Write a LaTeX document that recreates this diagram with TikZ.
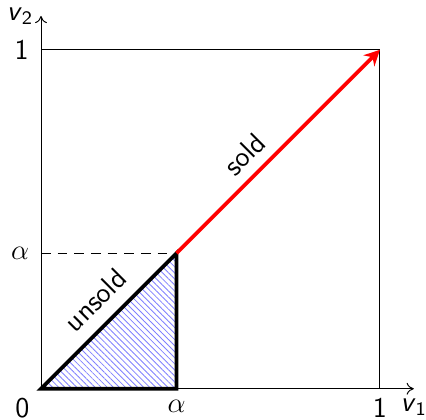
\documentclass[tikz,border=0pt]{standalone}
\usetikzlibrary{arrows.meta,patterns.meta}
\begin{document}
\begin{tikzpicture}[x=5cm,y=5cm,
  lbl/.style={font=\sffamily\large, inner sep=1pt},
  thinline/.style={line width=0.4pt},
  axis/.style={line width=0.4pt,-{To[length=3pt,width=5pt]}},
  boundary/.style={line width=1.6pt, line join=miter},
  soldarrow/.style={red, line width=1.6pt, -{Stealth[length=6.5pt,width=6.5pt]}}]
\useasboundingbox (-0.121,-0.091) rectangle (1.136,1.147);
\def\al{0.4}
% hatched triangle
\fill[pattern={Lines[angle=-45,distance=1.8pt,line width=0.35pt]}, pattern color=blue!50] (0,0) -- (\al,0) -- (\al,\al) -- cycle;
% unit square
\draw[thinline] (0,1) -- (1,1) -- (1,0);
% axes
\coordinate (O) at (0,0);
\coordinate (xe) at (1.1,0);
\coordinate (ye) at (0,1.1);
\draw[axis] (O) -- (xe);
\draw[axis] (O) -- (ye);
% dashed alpha line
\coordinate (ya) at (0,\al);
\coordinate (A) at (\al,\al);
\coordinate (xa) at (\al,0);
\coordinate (B) at (1,1);
\draw[thinline, dashed, dash pattern=on 4pt off 3pt] (ya) -- (A);
% triangle boundary
\draw[boundary] (O) -- (xa) -- (A) -- cycle;
% red arrow
\draw[soldarrow] (A) -- (B);
% labels
\node[lbl] (l0) at (-0.055,-0.056) {0};
\node[lbl] (lx1) at (1,-0.055) {1};
\node (lxa) at (\al,-0.052) {\large$\alpha$};
\node[lbl] (ly1) at (-0.057,1.0) {1};
\node (lya) at (-0.062,\al) {\large$\alpha$};
\node[lbl] (lv1) at (1.1,-0.055) {\textit{v}\textsubscript{1}};
\node[lbl] (lv2) at (-0.062,1.1) {\textit{v}\textsubscript{2}};
\node[lbl, rotate=45] (ls) at (0.6,0.692) {sold};
\node[lbl, rotate=45] (lu) at (0.16,0.262) {unsold};
\end{tikzpicture}
\end{document}
